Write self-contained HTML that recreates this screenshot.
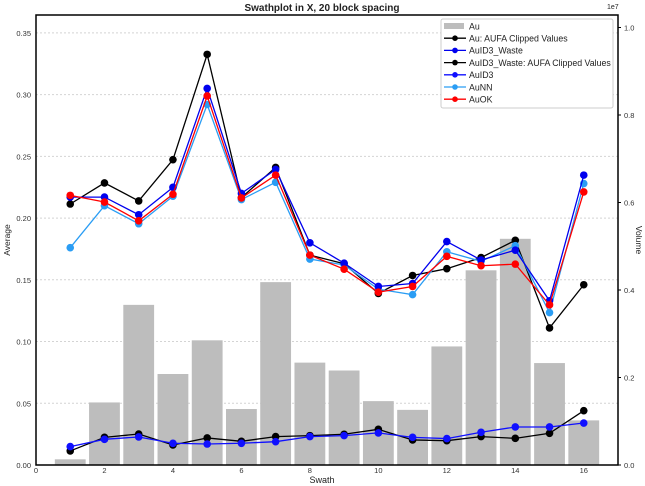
<!DOCTYPE html>
<html><head><meta charset="utf-8"><style>
body{margin:0;background:#fff;}
svg{display:block;font-family:"Liberation Sans",sans-serif;}
</style></head><body>
<svg id="chart" width="645" height="486" xmlns="http://www.w3.org/2000/svg"></svg>
<script>
const swaths=[1,2,3,4,5,6,7,8,9,10,11,12,13,14,15,16];
const volumeAu=[0.013,0.143,0.366,0.208,0.285,0.128,0.418,0.234,0.216,0.146,0.126,0.271,0.445,0.517,0.233,0.102];
const auClipped=[0.2114,0.2285,0.2139,0.2473,0.3326,0.2166,0.241,0.170,0.163,0.139,0.1535,0.159,0.168,0.182,0.111,0.146];
const auID3Waste=[0.217,0.217,0.2027,0.2249,0.305,0.220,0.2394,0.180,0.1635,0.1446,0.147,0.181,0.166,0.174,0.133,0.2348];
const auID3WasteClipped=[0.0114,0.0224,0.0251,0.0162,0.0219,0.0192,0.023,0.0238,0.0249,0.0289,0.0203,0.0197,0.023,0.0216,0.0257,0.044];
const auID3=[0.0149,0.0208,0.0227,0.0176,0.017,0.0176,0.0189,0.023,0.0238,0.026,0.0224,0.0214,0.0265,0.0308,0.0308,0.034];
const auNN=[0.176,0.210,0.1954,0.2177,0.292,0.215,0.229,0.1668,0.162,0.1424,0.138,0.1727,0.165,0.1776,0.1235,0.228];
const auOK=[0.2184,0.213,0.1978,0.2193,0.2989,0.2163,0.2348,0.170,0.1586,0.140,0.1446,0.169,0.1614,0.1627,0.1297,0.2212];
const xTicks=[0,2,4,6,8,10,12,14,16];
const yTicks=[0,0.05,0.10,0.15,0.20,0.25,0.30,0.35];
const y2Ticks=[0,0.2,0.4,0.6,0.8,1.0];

const L=36,R=618,T=15,B=465;
const X=v=>L+v*(R-L)/17;
const Y=v=>B-v*1234.6;
const Y2=v=>B-v*437.5;
const svg=document.getElementById('chart');
const NS='http://www.w3.org/2000/svg';
function mk(tag,attrs,parent){const e=document.createElementNS(NS,tag);for(const k in attrs)e.setAttribute(k,attrs[k]);(parent||svg).appendChild(e);return e;}

yTicks.forEach(v=>{if(v>0){const g=mk('line',{x1:L,x2:R,y1:Y(v),y2:Y(v),stroke:'#d4d4d4','stroke-dasharray':'2,2','stroke-width':1});

}});
const bw=(R-L)/17*0.9;
swaths.forEach((s,i)=>{const r=mk('rect',{x:X(s)-bw/2,y:Y2(volumeAu[i]),width:bw,height:B-Y2(volumeAu[i]),fill:'#bdbdbd'});

});
function series(vals,color,name,op){
 const g=mk('g',{opacity:op||1});
 
 
 mk('polyline',{points:vals.map((v,i)=>X(swaths[i])+','+Y(v)).join(' '),fill:'none',stroke:color,'stroke-width':1.3},g);
 vals.forEach((v,i)=>{const c=mk('circle',{cx:X(swaths[i]),cy:Y(v),r:3.8,fill:color},g);
 
 });
}
series(auClipped,'#000','series-au-clipped');
series(auID3WasteClipped,'#000','series-auid3-waste-clipped');
series(auID3,'#1010ff','series-auid3');
series(auNN,'#2a9df4','series-aunn');
series(auID3Waste,'#0000ee','series-auid3-waste');
series(auOK,'#ff0000','series-auok');
const f=mk('rect',{x:L,y:T,width:R-L,height:B-T,fill:'none',stroke:'#000','stroke-width':1.5});


function txt(x,y,s,attrs){const t=mk('text',Object.assign({x:x,y:y,'font-size':7.5,fill:'#333'},attrs||{}));t.textContent=s;return t;}
xTicks.forEach(v=>{const t=txt(X(v),B+8,String(v),{'text-anchor':'middle'});

});
yTicks.forEach(v=>{const t=txt(L-5,Y(v)+3,v.toFixed(2),{'text-anchor':'end'});

});
y2Ticks.forEach(v=>{mk('line',{x1:R,x2:R+3,y1:Y2(v),y2:Y2(v),stroke:'#000'});
const t=txt(R+6,Y2(v)+3,v.toFixed(1));

});
</script>
<script>
(function(){
const svg=document.getElementById('chart');
const NS='http://www.w3.org/2000/svg';
function mk(tag,attrs){const e=document.createElementNS(NS,tag);for(const k in attrs)e.setAttribute(k,attrs[k]);svg.appendChild(e);return e;}
function t(x,y,s,a,name){const e=mk('text',Object.assign({x:x,y:y,fill:'#222'},a));e.textContent=s;

}
t(322,11,'Swathplot in X, 20 block spacing',{'font-size':10,'font-weight':'bold','text-anchor':'middle'},'chart-title');
t(607,9,'1e7',{'font-size':7},'y2-scale-label');
t(322,483,'Swath',{'font-size':9,'text-anchor':'middle'},'x-axis-title');
t(0,0,'Average',{'font-size':8.5,'text-anchor':'middle',transform:'translate(10,240) rotate(-90)'},'y-axis-title');
t(0,0,'Volume',{'font-size':8.5,'text-anchor':'middle',transform:'translate(636,240) rotate(90)'},'y2-axis-title');
const lg=mk('rect',{x:441,y:19,width:172,height:89,fill:'#fff',stroke:'#ccc','stroke-width':1,rx:2});


const items=[['Au','#bdbdbd',1],['Au: AUFA Clipped Values','#000',0],['AuID3_Waste','#0000ee',0],['AuID3_Waste: AUFA Clipped Values','#000',0],['AuID3','#1010ff',0],['AuNN','#2a9df4',0],['AuOK','#ff0000',0]];
items.forEach((it,i)=>{const y=26+i*12.2;
 if(it[2]){mk('rect',{x:444,y:y-3,width:20,height:6,fill:it[1]});}
 else{mk('line',{x1:444,x2:466,y1:y,y2:y,stroke:it[1],'stroke-width':1.3});mk('circle',{cx:455,cy:y,r:2.8,fill:it[1]});}
 t(469,y+3.3,it[0],{'font-size':8.8},'legend-entry');});
})();
</script>
</body></html>
